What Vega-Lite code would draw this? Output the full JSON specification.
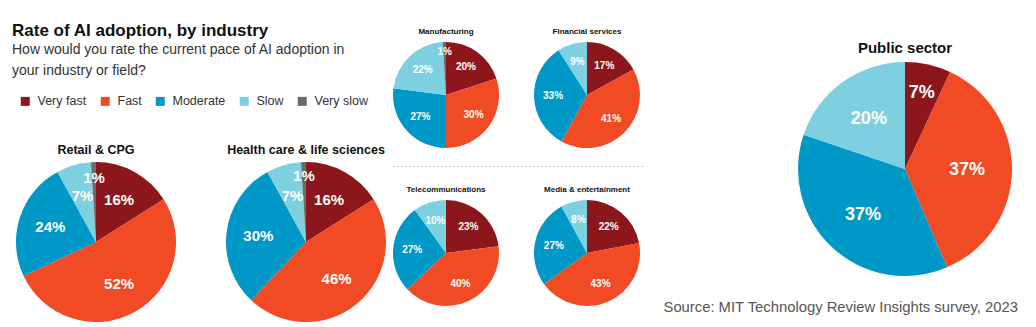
{
  "$schema": "https://vega.github.io/schema/vega-lite/v6.json",
  "background": "white",
  "padding": {"left": 12, "top": 0, "right": 0, "bottom": 0},
  "config": {
    "font": "Liberation Sans",
    "view": {"stroke": null},
    "title": {"fontWeight": "bold", "color": "#111111", "anchor": "middle"}
  },
  "data": {"values": [
    {"industry": "Retail & CPG", "level": "Very fast", "k": 1, "value": 16},
    {"industry": "Retail & CPG", "level": "Fast", "k": 2, "value": 52},
    {"industry": "Retail & CPG", "level": "Moderate", "k": 3, "value": 24},
    {"industry": "Retail & CPG", "level": "Slow", "k": 4, "value": 7},
    {"industry": "Retail & CPG", "level": "Very slow", "k": 5, "value": 1},
    {"industry": "Health care & life sciences", "level": "Very fast", "k": 1, "value": 16},
    {"industry": "Health care & life sciences", "level": "Fast", "k": 2, "value": 46},
    {"industry": "Health care & life sciences", "level": "Moderate", "k": 3, "value": 30},
    {"industry": "Health care & life sciences", "level": "Slow", "k": 4, "value": 7},
    {"industry": "Health care & life sciences", "level": "Very slow", "k": 5, "value": 1},
    {"industry": "Manufacturing", "level": "Very fast", "k": 1, "value": 20},
    {"industry": "Manufacturing", "level": "Fast", "k": 2, "value": 30},
    {"industry": "Manufacturing", "level": "Moderate", "k": 3, "value": 27},
    {"industry": "Manufacturing", "level": "Slow", "k": 4, "value": 22},
    {"industry": "Manufacturing", "level": "Very slow", "k": 5, "value": 1},
    {"industry": "Financial services", "level": "Very fast", "k": 1, "value": 17},
    {"industry": "Financial services", "level": "Fast", "k": 2, "value": 41},
    {"industry": "Financial services", "level": "Moderate", "k": 3, "value": 33},
    {"industry": "Financial services", "level": "Slow", "k": 4, "value": 9},
    {"industry": "Telecommunications", "level": "Very fast", "k": 1, "value": 23},
    {"industry": "Telecommunications", "level": "Fast", "k": 2, "value": 40},
    {"industry": "Telecommunications", "level": "Moderate", "k": 3, "value": 27},
    {"industry": "Telecommunications", "level": "Slow", "k": 4, "value": 10},
    {"industry": "Media & entertainment", "level": "Very fast", "k": 1, "value": 22},
    {"industry": "Media & entertainment", "level": "Fast", "k": 2, "value": 43},
    {"industry": "Media & entertainment", "level": "Moderate", "k": 3, "value": 27},
    {"industry": "Media & entertainment", "level": "Slow", "k": 4, "value": 8},
    {"industry": "Public sector", "level": "Very fast", "k": 1, "value": 7},
    {"industry": "Public sector", "level": "Fast", "k": 2, "value": 37},
    {"industry": "Public sector", "level": "Moderate", "k": 3, "value": 37},
    {"industry": "Public sector", "level": "Slow", "k": 4, "value": 20}
  ]},
  "resolve": {"scale": {"color": "independent"}, "legend": {"color": "independent"}},
  "spacing": 18,
  "hconcat": [
    {
      "resolve": {"scale": {"color": "independent"}, "legend": {"color": "independent"}},
      "spacing": 6,
      "hconcat": [
        {
          "resolve": {"scale": {"color": "independent"}, "legend": {"color": "independent"}},
          "spacing": 20,
          "vconcat": [
            {"width": 1, "height": 1, "data": {"values": []}, "mark": {"type": "point"}, "encoding": {}},
            {
              "title": {"text": "Rate of AI adoption, by industry", "subtitle": ["How would you rate the current pace of AI adoption in", "your industry or field?"], "anchor": "start", "fontSize": 17, "fontWeight": "bold", "color": "#111111", "subtitleFontSize": 14, "subtitleColor": "#333333", "subtitleLineHeight": 21, "subtitlePadding": 3, "offset": 13.5, "dx": -4},
              "spacing": 50,
              "hconcat": [
                {
                  "width": 160, "height": 160,
                  "title": {"text": "Retail & CPG", "fontSize": 12.5, "offset": 6},
                  "transform": [{"filter": "datum.industry === 'Retail & CPG'"}],
                  "encoding": {
                    "theta": {"field": "value", "type": "quantitative", "stack": true},
                    "order": {"field": "k", "type": "quantitative"},
                    "color": {"field": "level", "type": "nominal", "scale": {"domain": ["Very fast", "Fast", "Moderate", "Slow", "Very slow"], "range": ["#8B171D", "#F04B24", "#0099C7", "#7ED0E1", "#6B6B6B"]},
                      "legend": {"orient": "top", "direction": "horizontal", "title": null, "symbolType": "square", "symbolSize": 81, "symbolStrokeWidth": 0, "labelFontSize": 12.5, "labelColor": "#333333", "labelOffset": 6, "columnPadding": 12, "offset": 32, "padding": 3}}
                  },
                  "layer": [
                    {"mark": {"type": "arc"}},
                    {"mark": {"type": "text", "fontSize": 15, "fontWeight": "bold", "radius": {"expr": "datum.level === 'Very slow' ? 64 : 48"}},
                     "encoding": {"text": {"value": {"expr": "datum.value + '%'"}}, "color": {"value": "white"}}}
                  ]
                },
                {
                  "width": 160, "height": 160,
                  "title": {"text": "Health care & life sciences", "fontSize": 12.5, "offset": 6},
                  "transform": [{"filter": "datum.industry === 'Health care & life sciences'"}],
                  "encoding": {
                    "theta": {"field": "value", "type": "quantitative", "stack": true},
                    "order": {"field": "k", "type": "quantitative"},
                    "color": {"field": "level", "type": "nominal", "scale": {"domain": ["Very fast", "Fast", "Moderate", "Slow", "Very slow"], "range": ["#8B171D", "#F04B24", "#0099C7", "#7ED0E1", "#6B6B6B"]},
                      "legend": {"orient": "top", "direction": "horizontal", "title": null, "symbolType": "square", "symbolSize": 81, "symbolStrokeWidth": 0, "labelFontSize": 12.5, "labelColor": "#333333", "labelOffset": 6, "columnPadding": 12, "offset": 32, "padding": 3}}
                  },
                  "layer": [
                    {"mark": {"type": "arc"}},
                    {"mark": {"type": "text", "fontSize": 15, "fontWeight": "bold", "radius": {"expr": "datum.level === 'Very slow' ? 66 : 48"}},
                     "encoding": {"text": {"value": {"expr": "datum.value + '%'"}}, "color": {"value": "white"}}}
                  ]
                }
              ]
            }
          ]
        },
        {
          "resolve": {"scale": {"color": "independent"}, "legend": {"color": "independent"}},
          "spacing": 26,
          "vconcat": [
            {"width": 1, "height": 1, "data": {"values": []}, "mark": {"type": "point"}, "encoding": {}},
            {
              "spacing": 17.5,
              "vconcat": [
                {
                  "spacing": 35,
                  "hconcat": [
                    {
                      "width": 106, "height": 106,
                      "title": {"text": "Manufacturing", "fontSize": 8, "offset": 6.5},
                      "transform": [{"filter": "datum.industry === 'Manufacturing'"}],
                      "encoding": {
                        "theta": {"field": "value", "type": "quantitative", "stack": true},
                        "order": {"field": "k", "type": "quantitative"},
                        "color": {"field": "level", "type": "nominal", "scale": {"domain": ["Very fast", "Fast", "Moderate", "Slow", "Very slow"], "range": ["#8B171D", "#F04B24", "#0099C7", "#7ED0E1", "#6B6B6B"]}, "legend": null}
                      },
                      "layer": [
                        {"mark": {"type": "arc"}},
                        {"mark": {"type": "text", "fontSize": 10, "fontWeight": "bold", "radius": {"expr": "datum.level === 'Very slow' ? 43 : 34"}},
                         "encoding": {"text": {"value": {"expr": "datum.value + '%'"}}, "color": {"value": "white"}}}
                      ]
                    },
                    {
                      "width": 106, "height": 106,
                      "title": {"text": "Financial services", "fontSize": 8, "offset": 6.5},
                      "transform": [{"filter": "datum.industry === 'Financial services'"}],
                      "encoding": {
                        "theta": {"field": "value", "type": "quantitative", "stack": true},
                        "order": {"field": "k", "type": "quantitative"},
                        "color": {"field": "level", "type": "nominal", "scale": {"domain": ["Very fast", "Fast", "Moderate", "Slow", "Very slow"], "range": ["#8B171D", "#F04B24", "#0099C7", "#7ED0E1", "#6B6B6B"]}, "legend": null}
                      },
                      "layer": [
                        {"mark": {"type": "arc"}},
                        {"mark": {"type": "text", "fontSize": 10, "fontWeight": "bold", "radius": 34},
                         "encoding": {"text": {"value": {"expr": "datum.value + '%'"}}, "color": {"value": "white"}}}
                      ]
                    }
                  ]
                },
                {
                  "width": 250, "height": 1,
                  "data": {"values": [{}]},
                  "mark": {"type": "rule", "color": "#cccccc", "strokeDash": [2, 2], "strokeWidth": 1},
                  "encoding": {"y": {"datum": 0, "type": "quantitative", "scale": {"domain": [0, 1]}, "axis": null}}
                },
                {
                  "spacing": 35,
                  "hconcat": [
                    {
                      "width": 106, "height": 106,
                      "title": {"text": "Telecommunications", "fontSize": 8, "offset": 6.5},
                      "transform": [{"filter": "datum.industry === 'Telecommunications'"}],
                      "encoding": {
                        "theta": {"field": "value", "type": "quantitative", "stack": true},
                        "order": {"field": "k", "type": "quantitative"},
                        "color": {"field": "level", "type": "nominal", "scale": {"domain": ["Very fast", "Fast", "Moderate", "Slow", "Very slow"], "range": ["#8B171D", "#F04B24", "#0099C7", "#7ED0E1", "#6B6B6B"]}, "legend": null}
                      },
                      "layer": [
                        {"mark": {"type": "arc"}},
                        {"mark": {"type": "text", "fontSize": 10, "fontWeight": "bold", "radius": 34},
                         "encoding": {"text": {"value": {"expr": "datum.value + '%'"}}, "color": {"value": "white"}}}
                      ]
                    },
                    {
                      "width": 106, "height": 106,
                      "title": {"text": "Media & entertainment", "fontSize": 8, "offset": 6.5},
                      "transform": [{"filter": "datum.industry === 'Media & entertainment'"}],
                      "encoding": {
                        "theta": {"field": "value", "type": "quantitative", "stack": true},
                        "order": {"field": "k", "type": "quantitative"},
                        "color": {"field": "level", "type": "nominal", "scale": {"domain": ["Very fast", "Fast", "Moderate", "Slow", "Very slow"], "range": ["#8B171D", "#F04B24", "#0099C7", "#7ED0E1", "#6B6B6B"]}, "legend": null}
                      },
                      "layer": [
                        {"mark": {"type": "arc"}},
                        {"mark": {"type": "text", "fontSize": 10, "fontWeight": "bold", "radius": 34},
                         "encoding": {"text": {"value": {"expr": "datum.value + '%'"}}, "color": {"value": "white"}}}
                      ]
                    }
                  ]
                }
              ]
            }
          ]
        }
      ]
    },
    {
      "resolve": {"scale": {"color": "independent"}, "legend": {"color": "independent"}},
      "title": {"text": "Source: MIT Technology Review Insights survey, 2023", "orient": "bottom", "anchor": "end", "fontSize": 14.8, "fontWeight": "normal", "color": "#555555", "offset": 24, "dx": 6},
      "spacing": 39,
      "vconcat": [
        {"width": 1, "height": 1, "data": {"values": []}, "mark": {"type": "point"}, "encoding": {}},
        {
          "width": 214, "height": 214,
          "title": {"text": "Public sector", "fontSize": 15, "offset": 6.5},
          "transform": [{"filter": "datum.industry === 'Public sector'"}],
          "encoding": {
            "theta": {"field": "value", "type": "quantitative", "stack": true},
            "order": {"field": "k", "type": "quantitative"},
            "color": {"field": "level", "type": "nominal", "scale": {"domain": ["Very fast", "Fast", "Moderate", "Slow", "Very slow"], "range": ["#8B171D", "#F04B24", "#0099C7", "#7ED0E1", "#6B6B6B"]}, "legend": null}
          },
          "layer": [
            {"mark": {"type": "arc"}},
            {"mark": {"type": "text", "fontSize": 18, "fontWeight": "bold", "radius": {"expr": "datum.value < 10 ? 78 : 62"}},
             "encoding": {"text": {"value": {"expr": "datum.value + '%'"}}, "color": {"value": "white"}}}
          ]
        }
      ]
    }
  ]
}
